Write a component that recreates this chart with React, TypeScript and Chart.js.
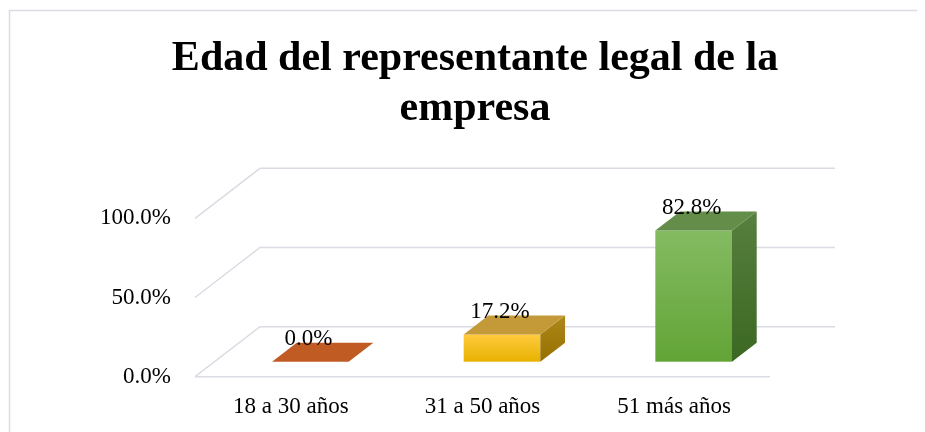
import React, { useEffect, useRef } from "react";
import { Chart, registerables } from "chart.js";

Chart.register(...registerables);

const titleLines = ["Edad del representante legal de la", "empresa"];
const categories = ["18 a 30 años", "31 a 50 años", "51 más años"];
const values = [0.0, 17.2, 82.8];
const yTickValues = [0, 50, 100];

const frontTop = ["#C65F25", "#FFCB3E", "#84BB62"];
const frontBottom = ["#B9561F", "#E8B100", "#62A436"];
const topFace = ["#C05C23", "#C49A38", "#638D49"];
const sideTop = ["#9C4B1C", "#AD8718", "#577F3E"];
const sideBottom = ["#8A4016", "#967100", "#3B6822"];

const FONT = "'Liberation Serif', 'Times New Roman', serif";
const GRID = "#d9dce3";

// perspective of the walls (pixels)
const DX = 65;
const DY = -50;
const BAR_FRONT = 0.3;
const BAR_BACK = 0.68;

const threeD = {
  id: "threeD",
  beforeDraw(chart: any) {
    const { ctx, width, height } = chart;
    ctx.save();
    ctx.strokeStyle = GRID;
    ctx.lineWidth = 1.5;
    ctx.beginPath();
    ctx.moveTo(1.5, height + 5);
    ctx.lineTo(1.5, 2.5);
    ctx.lineTo(width + 5, 2.5);
    ctx.stroke();
    ctx.restore();
  },
  beforeDatasetsDraw(chart: any) {
    const { ctx, chartArea, scales } = chart;
    const { left, right } = chartArea;
    const y = scales.y;
    ctx.save();
    ctx.strokeStyle = GRID;
    ctx.lineWidth = 1.5;
    y.ticks.forEach((t: any) => {
      const py = y.getPixelForValue(t.value);
      ctx.beginPath();
      ctx.moveTo(left, py);
      ctx.lineTo(left + DX, py + DY);
      ctx.lineTo(right + DX, py + DY);
      ctx.stroke();
    });
    const p0 = y.getPixelForValue(0);
    ctx.beginPath();
    ctx.moveTo(left, p0);
    ctx.lineTo(right, p0);
    ctx.stroke();
    ctx.restore();
  },
  afterDatasetsDraw(chart: any) {
    const { ctx } = chart;
    const meta = chart.getDatasetMeta(0);
    const ox = DX * BAR_FRONT;
    const oy = DY * BAR_FRONT;
    const dx = DX * (BAR_BACK - BAR_FRONT);
    const dy = DY * (BAR_BACK - BAR_FRONT);
    meta.data.forEach((el: any, i: number) => {
      const { x, y, base, width } = el.getProps(["x", "y", "base", "width"], true);
      const xl = x - width / 2 + ox;
      const xr = x + width / 2 + ox;
      const yt = y + oy;
      const yb = base + oy;
      ctx.save();
      if (yb - yt > 0.5) {
        const g = ctx.createLinearGradient(0, yt, 0, yb);
        g.addColorStop(0, frontTop[i]);
        g.addColorStop(1, frontBottom[i]);
        ctx.fillStyle = g;
        ctx.fillRect(xl, yt, xr - xl, yb - yt);
        const gs = ctx.createLinearGradient(0, yt + dy, 0, yb);
        gs.addColorStop(0, sideTop[i]);
        gs.addColorStop(1, sideBottom[i]);
        ctx.fillStyle = gs;
        ctx.beginPath();
        ctx.moveTo(xr, yt);
        ctx.lineTo(xr + dx, yt + dy);
        ctx.lineTo(xr + dx, yb + dy);
        ctx.lineTo(xr, yb);
        ctx.closePath();
        ctx.fill();
      }
      ctx.fillStyle = topFace[i];
      ctx.beginPath();
      ctx.moveTo(xl, yt);
      ctx.lineTo(xr, yt);
      ctx.lineTo(xr + dx, yt + dy);
      ctx.lineTo(xl + dx, yt + dy);
      ctx.closePath();
      ctx.fill();

      ctx.fillStyle = "#000";
      ctx.font = `23px ${FONT}`;
      ctx.textAlign = "center";
      ctx.textBaseline = "middle";
      ctx.fillText(values[i].toFixed(1) + "%", x + ox - 2, yt - 23);
      ctx.restore();
    });
  },
};

export default function App() {
  const ref = useRef<HTMLCanvasElement | null>(null);
  useEffect(() => {
    if (!ref.current) return;
    const chart = new Chart(ref.current, {
      type: "bar",
      data: {
        labels: categories,
        datasets: [
          {
            data: values,
            backgroundColor: "rgba(0,0,0,0)",
            borderWidth: 0,
            categoryPercentage: 1,
            barPercentage: 0.4,
          },
        ],
      },
      options: {
        animation: false,
        responsive: true,
        maintainAspectRatio: false,
        layout: { padding: { left: 17, right: 0, top: 0, bottom: 0 } },
        plugins: {
          legend: { display: false },
          tooltip: { enabled: false },
          title: {
            display: true,
            text: titleLines,
            color: "#000",
            font: { family: FONT, size: 42, weight: "bold", lineHeight: 1.2 },
            padding: { top: 26, bottom: 83.5 },
          },
        },
        scales: {
          x: {
            grid: { display: false, drawTicks: false },
            border: { display: false },
            ticks: {
              color: "#000",
              font: { family: FONT, size: 23 },
              padding: 16.7,
            },
            afterFit: (s: any) => {
              s.height = 55.3;
            },
          },
          y: {
            min: 0,
            max: 100,
            afterBuildTicks: (s: any) => {
              s.ticks = yTickValues.map((v) => ({ value: v }));
            },
            grid: { display: false, drawTicks: false },
            border: { display: false },
            ticks: {
              color: "#000",
              font: { family: FONT, size: 23 },
              padding: 24,
              callback: (v: any) => Number(v).toFixed(1) + "%",
            },
            afterFit: (s: any) => {
              s.width = 170;
            },
          },
          y2: {
            position: "right",
            grid: { display: false, drawTicks: false },
            border: { display: false },
            ticks: { display: false },
            afterFit: (s: any) => {
              s.width = 155;
            },
          },
        },
      },
      plugins: [threeD],
    });
    return () => chart.destroy();
  }, []);
  return (
    <div style={{ width: 917, height: 424, position: "relative" }}>
      <canvas ref={ref} />
    </div>
  );
}
